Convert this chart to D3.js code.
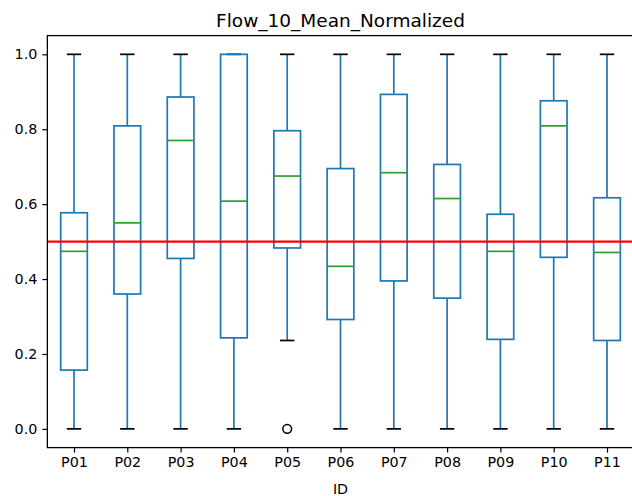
<!DOCTYPE html>
<html>
<head>
<meta charset="utf-8">
<script src="https://cdn.jsdelivr.net/npm/d3@7"></script>
<style>
  body { margin: 0; background: #fff; }
  svg { display: block; font-family: "DejaVu Sans", sans-serif; }
</style>
</head>
<body>
<svg></svg>
<script>
// values
const ids = ["P01", "P02", "P03", "P04", "P05", "P06", "P07", "P08", "P09", "P10", "P11"];
const q1 = [0.157, 0.360, 0.455, 0.243, 0.483, 0.292, 0.395, 0.349, 0.239, 0.458, 0.236];
const medians = [0.474, 0.550, 0.770, 0.608, 0.675, 0.434, 0.684, 0.615, 0.474, 0.809, 0.471];
const q3 = [0.577, 0.809, 0.886, 1.000, 0.796, 0.695, 0.893, 0.706, 0.573, 0.876, 0.617];
const whisk_lo = [0, 0, 0, 0, 0.236, 0, 0, 0, 0, 0, 0];
const whisk_hi = [1, 1, 1, 1, 1, 1, 1, 1, 1, 1, 1];
const fliers = [[], [], [], [], [0], [], [], [], [], [], []];
const y_ticks = [0.0, 0.2, 0.4, 0.6, 0.8, 1.0];
const ref_value = 0.5;

const width = 632, height = 496;
const ax_left = 47.35, ax_right = 633.65, ax_top = 35.6, ax_bottom = 447.6;

const svg = d3.select("svg")
  .attr("width", width)
  .attr("height", height);

// positions 1..n, xlim 0.5..n+0.5 like matplotlib
let x = d3.scaleLinear()
  .domain([0.5, ids.length + 0.5])
  .range([ax_left, ax_right]);

let y = d3.scaleLinear()
  .domain([-0.05, 1.05])
  .range([ax_bottom, ax_top]);

const step = x(2) - x(1);
const box_w = step * 0.5;
const cap_w = box_w * 0.54;
const blue = "#1f77b4";
const lw = 1.7;

const boxes = svg.append("g")
  .selectAll("g")
  .data(ids)
  .enter()
  .append("g");

// whiskers
boxes.append("line")
  .attr("x1", (d, i) => x(i + 1)).attr("x2", (d, i) => x(i + 1))
  .attr("y1", (d, i) => y(whisk_lo[i])).attr("y2", (d, i) => y(q1[i]))
  .attr("stroke", blue).attr("stroke-width", lw);
boxes.append("line")
  .attr("x1", (d, i) => x(i + 1)).attr("x2", (d, i) => x(i + 1))
  .attr("y1", (d, i) => y(q3[i])).attr("y2", (d, i) => y(whisk_hi[i]))
  .attr("stroke", blue).attr("stroke-width", lw);

// caps
[whisk_lo, whisk_hi].forEach(function(w) {
  boxes.append("line")
    .attr("x1", (d, i) => x(i + 1) - cap_w / 2).attr("x2", (d, i) => x(i + 1) + cap_w / 2)
    .attr("y1", (d, i) => y(w[i])).attr("y2", (d, i) => y(w[i]))
    .attr("stroke", "#000").attr("stroke-width", lw);
});

// box
boxes.append("rect")
  .attr("x", (d, i) => x(i + 1) - box_w / 2)
  .attr("width", box_w)
  .attr("y", (d, i) => y(q3[i]))
  .attr("height", (d, i) => y(q1[i]) - y(q3[i]))
  .attr("fill", "none")
  .attr("stroke", blue).attr("stroke-width", lw);

// median
boxes.append("line")
  .attr("x1", (d, i) => x(i + 1) - box_w / 2).attr("x2", (d, i) => x(i + 1) + box_w / 2)
  .attr("y1", (d, i) => y(medians[i])).attr("y2", (d, i) => y(medians[i]))
  .attr("stroke", "#2ca02c").attr("stroke-width", lw);

// fliers
boxes.each(function(d, i) {
  d3.select(this).selectAll("circle")
    .data(fliers[i])
    .enter()
    .append("circle")
    .attr("cx", x(i + 1))
    .attr("cy", v => y(v))
    .attr("r", 4.4)
    .attr("fill", "none")
    .attr("stroke", "#000")
    .attr("stroke-width", 1.5);
});

// reference line
svg.append("line")
  .attr("x1", ax_left).attr("x2", ax_right)
  .attr("y1", y(ref_value)).attr("y2", y(ref_value))
  .attr("stroke", "#ff0000").attr("stroke-width", 2.2);

// axes
let y_axis = svg.append("g")
  .attr("transform", "translate(" + ax_left + ",0)")
  .call(d3.axisLeft(y).tickValues(y_ticks).tickFormat(d3.format(".1f")).tickSize(5).tickPadding(5));

let x_axis = svg.append("g")
  .attr("transform", "translate(0," + ax_bottom + ")")
  .call(d3.axisBottom(x).tickValues(d3.range(1, ids.length + 1)).tickFormat((d) => ids[d - 1]).tickSize(5).tickPadding(4));

[y_axis, x_axis].forEach(function(a) {
  a.attr("font-size", 14.3).attr("font-family", "DejaVu Sans, sans-serif");
  a.selectAll("text").attr("fill", "#000");
  a.selectAll("line").attr("stroke", "#000").attr("stroke-width", 1.2);
  a.select(".domain").remove();
});

// spines
svg.append("rect")
  .attr("x", ax_left).attr("y", ax_top)
  .attr("width", ax_right - ax_left).attr("height", ax_bottom - ax_top)
  .attr("fill", "none")
  .attr("stroke", "#000")
  .attr("stroke-width", 1.3);

svg.append("text")
  .attr("x", (ax_left + ax_right) / 2)
  .attr("y", 27)
  .attr("text-anchor", "middle")
  .attr("font-size", 18.5)
  .text("Flow_10_Mean_Normalized");

svg.append("text")
  .attr("x", (ax_left + ax_right) / 2)
  .attr("y", 493.5)
  .attr("text-anchor", "middle")
  .attr("font-size", 14.3)
  .text("ID");
</script>
</body>
</html>
